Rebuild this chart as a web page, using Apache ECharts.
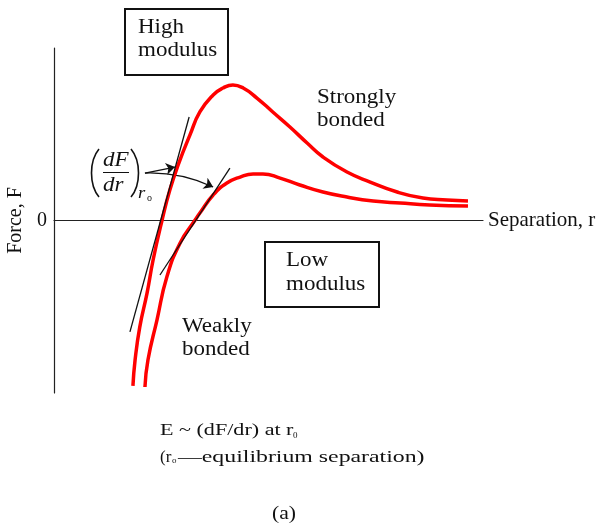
<!DOCTYPE html>
<html>
<head>
<meta charset="utf-8">
<script src="https://cdn.jsdelivr.net/npm/echarts@6/dist/echarts.min.js"></script>
<style>
  html, body { margin: 0; padding: 0; background: #fff; }
  #chart { width: 608px; height: 530px; }
</style>
</head>
<body>
<div id="chart"></div>
<script>
// force vs separation (r and F in arbitrary units)
var strongCurve = [
  [1.84, -9.59], [1.89, -8.09], [2.00, -6.17], [2.17, -4.20], [2.31, -2.29],
  [2.52, 0.03], [2.70, 1.77], [2.91, 3.33], [3.17, 4.96], [3.40, 6.29],
  [3.71, 7.28], [3.94, 7.68], [4.17, 7.86], [4.41, 7.68], [4.73, 7.10],
  [5.10, 6.29], [5.50, 5.42], [5.90, 4.49], [6.27, 3.68], [6.83, 2.81],
  [7.37, 2.23], [8.00, 1.65], [8.60, 1.30], [9.16, 1.19], [9.65, 1.13]
]
var weakCurve = [
  [2.12, -9.65], [2.19, -8.09], [2.40, -5.77], [2.63, -3.28], [2.94, -1.30],
  [3.29, 0.03], [3.40, 0.43], [3.71, 1.48], [4.03, 2.17], [4.34, 2.52],
  [4.64, 2.70], [4.87, 2.70], [5.27, 2.46], [5.73, 2.06], [6.27, 1.65],
  [6.83, 1.36], [7.44, 1.13], [8.07, 1.01], [8.76, 0.90], [9.65, 0.84]
]
// tangents at r0
var strongTangent = [[1.77, -6.46], [3.15, 6.00]]
var weakTangent = [[2.47, -3.16], [4.10, 3.04]]
// arrows from the (dF/dr) label to the two tangents
var arrowStart = [2.12, 2.75]
var arrowEnds = [[2.82, 3.10], [3.71, 1.94]]
var arrowBend = [0, 0.12]

var serif = '"Liberation Serif", "Times New Roman", serif'
var ink = '#111'

var chart = echarts.init(document.getElementById('chart'))

// a line of text placed by its baseline, stretched a little like the scan
var label = (text, x, baseline, size, sx, italic) => {
  return {
    type: 'text',
    x: x,
    y: baseline - 0.34 * size,
    scaleX: sx,
    silent: true,
    style: {
      text: text,
      font: (italic ? 'italic ' : '') + size + 'px ' + serif,
      fill: ink,
      textAlign: 'left',
      textVerticalAlign: 'middle'
    }
  }
}

var box = (x, y, w, h) => {
  return {
    type: 'rect',
    shape: {x: x, y: y, width: w, height: h},
    silent: true,
    style: {fill: 'none', stroke: ink, lineWidth: 2}
  }
}

var paren = (x, bulge) => {
  return {
    type: 'bezierCurve',
    silent: true,
    shape: {x1: x, y1: 149, x2: x, y2: 197, cpx1: x + bulge, cpy1: 161, cpx2: x + bulge, cpy2: 185},
    style: {stroke: ink, lineWidth: 1.6, fill: 'none'}
  }
}

var option = {
  animation: false,
  grid: {left: 54, top: 48, right: 125, bottom: 137, outerBoundsMode: 'none'},
  xAxis: {
    type: 'value',
    min: 0,
    max: 10,
    name: 'Separation, r',
    nameLocation: 'end',
    nameGap: 5,
    nameTextStyle: {fontFamily: serif, fontSize: 21, color: ink},
    axisLine: {onZero: true, lineStyle: {color: '#222', width: 1.2}},
    axisTick: {show: false},
    axisLabel: {show: false},
    splitLine: {show: false}
  },
  yAxis: {
    type: 'value',
    min: -10,
    max: 10,
    interval: 10,
    name: 'Force, F',
    nameLocation: 'middle',
    nameGap: 28,
    nameTextStyle: {fontFamily: serif, fontSize: 20, color: ink},
    axisLine: {show: true, lineStyle: {color: '#222', width: 1.2}},
    axisTick: {show: false},
    axisLabel: {
      margin: 7,
      fontFamily: serif,
      fontSize: 20,
      color: ink,
      formatter: (v) => v === 0 ? '0' : ''
    },
    splitLine: {show: false}
  },
  series: [{
    name: 'Strongly bonded',
    type: 'line',
    data: strongCurve,
    smooth: 0.5,
    symbol: 'none',
    lineStyle: {color: '#ff0000', width: 3.5}
  }, {
    name: 'Weakly bonded',
    type: 'line',
    data: weakCurve,
    smooth: 0.5,
    symbol: 'none',
    lineStyle: {color: '#ff0000', width: 3.5}
  }, {
    type: 'line',
    data: strongTangent,
    symbol: 'none',
    lineStyle: {color: ink, width: 1.3}
  }, {
    type: 'line',
    data: weakTangent,
    symbol: 'none',
    lineStyle: {color: ink, width: 1.3}
  }, {
    type: 'lines',
    coordinateSystem: 'cartesian2d',
    symbol: ['none', 'arrow'],
    symbolSize: 9,
    lineStyle: {color: ink, width: 1.3, opacity: 1},
    data: arrowEnds.map((end, i) => ({
      coords: [arrowStart, end],
      lineStyle: {curveness: arrowBend[i]}
    }))
  }],
  graphic: [
    box(125, 9, 103, 66),
    label('High', 138, 35, 20, 1.15),
    label('modulus', 138, 58, 20, 1.15),
    label('Strongly', 317, 105, 20, 1.15),
    label('bonded', 317, 128, 20, 1.15),
    box(265, 242, 114, 65),
    label('Low', 286, 268, 20, 1.15),
    label('modulus', 286, 292, 20, 1.15),
    label('Weakly', 182, 334, 20, 1.15),
    label('bonded', 182, 357, 20, 1.15),
    // (dF/dr) at r0
    paren(99, -10),
    paren(131, 10),
    label('dF', 103, 168, 20, 1.15, true),
    {
      type: 'line',
      silent: true,
      shape: {x1: 103, y1: 172.5, x2: 129, y2: 172.5},
      style: {stroke: ink, lineWidth: 1}
    },
    label('dr', 103, 193, 20, 1.15, true),
    label('r', 138, 199, 17, 1.1, true),
    label('o', 147, 202, 10, 1),
    // notes under the chart
    label('E ~ (dF/dr) at r', 160, 436, 17, 1.3),
    label('0', 293, 439, 9, 1),
    label('(r', 160, 463, 17, 1.0),
    label('o', 172, 464, 9, 1),
    label('\u2014equilibrium separation)', 178, 463, 17, 1.4),
    label('(a)', 272, 520, 18, 1.2)
  ]
}

chart.setOption(option, true)
</script>
</body>
</html>
